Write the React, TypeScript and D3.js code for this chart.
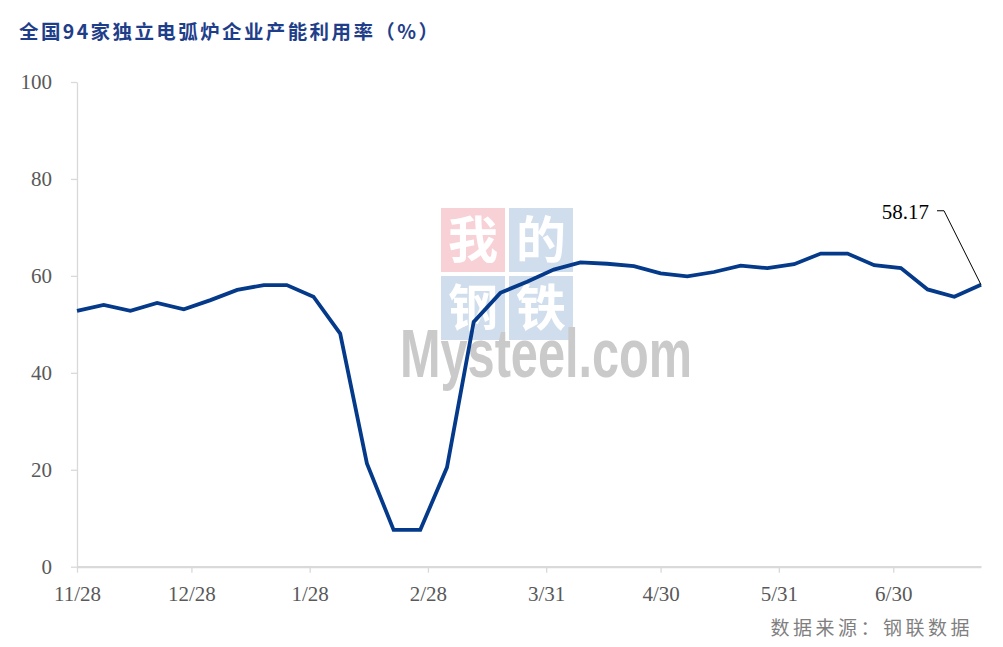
import * as d3 from "d3";
import { useEffect, useRef } from "react";

// weekly dates (one irregular week around the Spring Festival)
const dates = [
  "2022-11-28", "2022-12-05", "2022-12-12", "2022-12-19", "2022-12-26",
  "2023-01-02", "2023-01-09", "2023-01-16", "2023-01-22", "2023-01-29",
  "2023-02-05", "2023-02-12", "2023-02-19", "2023-02-26", "2023-03-05",
  "2023-03-12", "2023-03-19", "2023-03-26", "2023-04-02", "2023-04-09",
  "2023-04-16", "2023-04-23", "2023-04-30", "2023-05-07", "2023-05-14",
  "2023-05-21", "2023-05-28", "2023-06-04", "2023-06-11", "2023-06-18",
  "2023-06-25", "2023-07-02", "2023-07-09", "2023-07-16", "2023-07-23",
];

const utilization = [
  52.8, 54.0, 52.8, 54.4, 53.1, 55.0, 57.1, 58.1, 58.1, 55.7,
  48.1, 21.3, 7.6, 7.6, 20.5, 50.5, 56.5, 58.8, 61.3, 62.8,
  62.5, 62.0, 60.5, 59.9, 60.8, 62.1, 61.6, 62.4, 64.6, 64.6,
  62.2, 61.6, 57.2, 55.7, 58.17,
];

const xTickDates = [
  "2022-11-28", "2022-12-28", "2023-01-28", "2023-02-28",
  "2023-03-31", "2023-04-30", "2023-05-31", "2023-06-30",
];

const yTicks = [0, 20, 40, 60, 80, 100];

const title = "全国94家独立电弧炉企业产能利用率（%）";
const source = "数据来源：钢联数据";
const logoChars = ["我", "的", "钢", "铁"];

const parse = d3.timeParse("%Y-%m-%d");

export default function App() {
  const ref = useRef<SVGSVGElement>(null);

  useEffect(() => {
    if (!ref.current) return;
    const svg = d3.select(ref.current);
    svg.selectAll("*").remove();

    const W = 1003;
    const H = 647;
    const margin = { top: 82, right: 22, bottom: 80, left: 77 };

    const data = dates.map((d, i) => ({ date: parse(d)!, value: utilization[i] }));

    const x = d3
      .scaleTime()
      .domain([data[0].date, data[data.length - 1].date])
      .range([margin.left, W - margin.right]);

    const y = d3.scaleLinear().domain([0, 100]).range([H - margin.bottom - 0.3, margin.top]);

    svg.append("rect").attr("width", W).attr("height", H).attr("fill", "#fff");

    // Title
    svg
      .append("text")
      .attr("x", 19)
      .attr("y", 39)
      .attr("font-family", "'Noto Sans CJK SC', sans-serif")
      .attr("font-weight", 700)
      .attr("font-size", 19.5)
      .attr("letter-spacing", 2.4)
      .attr("fill", "#1F3E8A")
      .text(title);

    // Watermark logo
    const wm = svg.append("g");
    const box = 64;
    const gap = 4;
    const wx = 441;
    const wy = 208;
    logoChars.forEach((c, i) => {
      const col = i % 2;
      const row = Math.floor(i / 2);
      const bx = wx + col * (box + gap);
      const by = wy + row * (box + gap);
      wm.append("rect")
        .attr("x", bx)
        .attr("y", by)
        .attr("width", box)
        .attr("height", box)
        .attr("fill", i === 0 ? "#F8D1D6" : "#CFDDEC");
      wm.append("text")
        .attr("x", bx + box / 2)
        .attr("y", by + box / 2 + 18)
        .attr("text-anchor", "middle")
        .attr("font-family", "'Noto Sans CJK SC', sans-serif")
        .attr("font-weight", 700)
        .attr("font-size", 50)
        .attr("fill", "#fff")
        .text(c);
    });
    wm.append("text")
      .attr("x", 400)
      .attr("y", 377)
      .attr("font-family", "'Liberation Sans', Arial, sans-serif")
      .attr("font-weight", 700)
      .attr("font-size", 68)
      .attr("textLength", 292)
      .attr("lengthAdjust", "spacingAndGlyphs")
      .attr("fill", "#CACACA")
      .text("Mysteel.com");

    // Y axis
    const yAxis = svg
      .append("g")
      .attr("transform", `translate(${margin.left},0)`)
      .call(d3.axisLeft(y).tickValues(yTicks).tickSize(6).tickPadding(19).tickSizeOuter(0));
    yAxis.select(".domain").attr("stroke", "#D9D9D9").attr("stroke-width", 1.3);
    yAxis.selectAll(".tick line").attr("stroke", "#D9D9D9").attr("stroke-width", 1.3);
    yAxis
      .selectAll(".tick text")
      .attr("font-family", "'Liberation Serif', 'Times New Roman', serif")
      .attr("font-size", 21)
      .attr("fill", "#595959");

    // X axis
    const xAxis = svg
      .append("g")
      .attr("transform", `translate(0,${y(0)})`)
      .call(
        d3
          .axisBottom(x)
          .tickValues(xTickDates.map((d) => parse(d)!))
          .tickFormat((d) => d3.timeFormat("%-m/%-d")(d as Date))
          .tickSize(6)
          .tickPadding(13)
          .tickSizeOuter(0)
      );
    xAxis.select(".domain").attr("stroke", "#D9D9D9").attr("stroke-width", 2.2);
    xAxis.selectAll(".tick line").attr("stroke", "#D9D9D9").attr("stroke-width", 1.3);
    xAxis
      .selectAll(".tick text")
      .attr("font-family", "'Liberation Serif', 'Times New Roman', serif")
      .attr("font-size", 21)
      .attr("fill", "#595959");

    // Line
    const line = d3
      .line<{ date: Date; value: number }>()
      .x((d) => x(d.date))
      .y((d) => y(d.value));

    svg
      .append("path")
      .datum(data)
      .attr("d", line)
      .attr("fill", "none")
      .attr("stroke", "#043A89")
      .attr("stroke-width", 3.8)
      .attr("stroke-linejoin", "miter");

    // Last value label with leader line
    const last = data[data.length - 1];
    const px = x(last.date);
    const py = y(last.value);
    svg
      .append("polyline")
      .attr("points", `${px},${py} ${px - 37},${py - 74} ${px - 44},${py - 74}`)
      .attr("fill", "none")
      .attr("stroke", "#000")
      .attr("stroke-width", 1);
    svg
      .append("text")
      .attr("x", px - 52)
      .attr("y", py - 66)
      .attr("text-anchor", "end")
      .attr("font-family", "'Liberation Serif', 'Times New Roman', serif")
      .attr("font-size", 21)
      .attr("fill", "#000")
      .text(d3.format(".2f")(last.value));

    // Source
    svg
      .append("text")
      .attr("x", 973)
      .attr("y", 635)
      .attr("text-anchor", "end")
      .attr("font-family", "'Noto Sans CJK SC', sans-serif")
      .attr("font-size", 19)
      .attr("letter-spacing", 3.5)
      .attr("fill", "#7F7F7F")
      .text(source);
  }, []);

  return (
    <div style={{ position: "fixed", left: 0, top: 0 }}>
      <svg ref={ref} width={1003} height={647} />
    </div>
  );
}
